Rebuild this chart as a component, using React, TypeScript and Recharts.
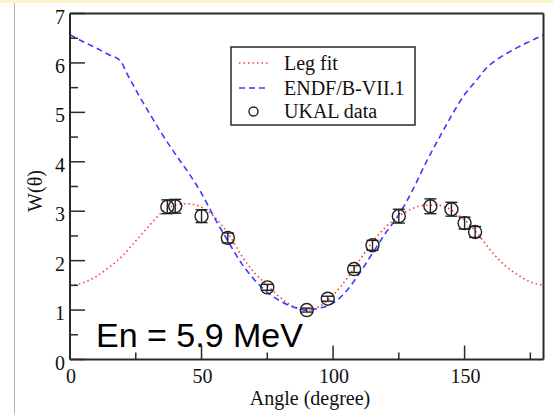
import React from 'react';
import {
  ComposedChart, Line, Scatter, ErrorBar, XAxis, YAxis,
} from 'recharts';

// Legendre fit, W(theta) vs angle in degrees
const fitAngles = [0, 5, 10, 15, 20, 25, 30, 35, 40, 45, 50, 55, 60, 65, 70, 75, 80, 85, 90,
  95, 100, 105, 110, 115, 120, 125, 130, 135, 140, 145, 150, 155, 160, 165, 170, 175, 180];
const fitValues = [1.5, 1.55, 1.68, 1.87, 2.1, 2.4, 2.7, 2.98, 3.12, 3.15, 3.08, 2.88, 2.56, 2.12, 1.76, 1.5, 1.25, 1.07, 1.0,
  1.08, 1.3, 1.62, 2.0, 2.38, 2.68, 2.9, 3.05, 3.12, 3.12, 3.02, 2.82, 2.54, 2.2, 1.92, 1.72, 1.57, 1.5];

// ENDF/B-VII.1 evaluation
const endfAngles = [0, 5, 10, 15, 19, 22, 26, 30, 35, 40, 45, 50, 55, 60, 65, 70, 75, 80, 85, 90,
  95, 100, 105, 110, 115, 120, 125, 130, 135, 140, 145, 150, 155, 158, 162, 166, 170, 175, 180];
const endfValues = [6.57, 6.43, 6.3, 6.16, 6.05, 5.75, 5.36, 5.0, 4.56, 4.16, 3.78, 3.36, 2.86, 2.4, 1.96, 1.62, 1.36, 1.18, 1.06, 1.0,
  1.04, 1.14, 1.38, 1.74, 2.15, 2.56, 2.93, 3.4, 3.95, 4.45, 4.93, 5.36, 5.68, 5.88, 6.06, 6.19, 6.31, 6.44, 6.57];

// UKAL measurements
const ukalAngles = [37, 40, 50, 60, 75, 90, 98, 108, 115, 125, 137, 145, 150, 154];
const ukalValues = [3.09, 3.1, 2.9, 2.46, 1.46, 1.0, 1.23, 1.83, 2.31, 2.9, 3.1, 3.04, 2.76, 2.58];
const ukalErrors = [0.14, 0.14, 0.13, 0.1, 0.06, 0.04, 0.05, 0.07, 0.1, 0.14, 0.15, 0.14, 0.12, 0.11];

const xTicks = [0, 25, 50, 75, 100, 125, 150, 175];
const yTicks = [0, 0.5, 1, 1.5, 2, 2.5, 3, 3.5, 4, 4.5, 5, 5.5, 6, 6.5, 7];

const fitData = fitAngles.map((a, i) => ({ angle: a, w: fitValues[i] }));
const endfData = endfAngles.map((a, i) => ({ angle: a, w: endfValues[i] }));
const ukalData = ukalAngles.map((a, i) => ({ angle: a, w: ukalValues[i], err: ukalErrors[i] }));

const AXIS = '#2a2a2a';
const RED = '#ff3b3b';
const BLUE = '#3a3aff';
const SERIF = '"Liberation Serif", "Times New Roman", serif';

const BottomTick = (props: any) => {
  const { x, y, payload } = props;
  const major = payload.value % 50 === 0;
  return (
    <g>
      <line x1={x} x2={x} y1={y} y2={y - (major ? 14 : 7)} stroke={AXIS} strokeWidth={1.5} />
      {major && (
        <text x={x + 1} y={y + 23} textAnchor="middle" fontFamily={SERIF} fontSize={20} fill="#111">
          {payload.value}
        </text>
      )}
    </g>
  );
};

const TopTick = (props: any) => {
  const { x, y, payload } = props;
  const major = payload.value % 50 === 0;
  return <line x1={x} x2={x} y1={y} y2={y + (major ? 14 : 7)} stroke={AXIS} strokeWidth={1.5} />;
};

const LeftTick = (props: any) => {
  const { x, y, payload } = props;
  const major = Number.isInteger(payload.value);
  return (
    <g>
      <line x1={x} x2={x + (major ? 15 : 8)} y1={y} y2={y} stroke={AXIS} strokeWidth={1.5} />
      {major && (
        <text x={x - 5} y={y + 10} textAnchor="end" fontFamily={SERIF} fontSize={20} fill="#111">
          {payload.value}
        </text>
      )}
    </g>
  );
};

const RightTick = (props: any) => {
  const { x, y, payload } = props;
  const major = Number.isInteger(payload.value);
  return <line x1={x} x2={x - (major ? 15 : 8)} y1={y} y2={y} stroke={AXIS} strokeWidth={1.5} />;
};

const OpenCircle = (props: any) => {
  const { cx, cy } = props;
  return <circle cx={cx} cy={cy} r={6.5} fill="none" stroke="#222" strokeWidth={1.4} />;
};

export default function App() {
  return (
    <div style={{ width: 553, height: 414, position: 'relative', background: '#fff' }}>
      <style>{'body{margin:0}'}</style>
      <ComposedChart
        width={553}
        height={414}
        margin={{ top: 12.5, right: 8.5, bottom: 53.5, left: 69 }}
      >
        <rect x={0} y={0} width={553} height={3} fill="#fcf3c6" />
        <line x1={14.5} x2={14.5} y1={3} y2={414} stroke="#b5b5b5" strokeWidth={1} />

        <XAxis
          xAxisId="b"
          type="number"
          dataKey="angle"
          domain={[0, 180]}
          ticks={xTicks}
          orientation="bottom"
          height={1}
          tickSize={0}
          tickMargin={0}
          tick={BottomTick}
          axisLine={{ stroke: AXIS, strokeWidth: 2 }}
          allowDataOverflow
        />
        <XAxis
          xAxisId="t"
          type="number"
          dataKey="angle"
          domain={[0, 180]}
          ticks={xTicks}
          orientation="top"
          height={1}
          tickSize={0}
          tickMargin={0}
          tick={TopTick}
          axisLine={{ stroke: AXIS, strokeWidth: 2 }}
        />
        <YAxis
          yAxisId="l"
          type="number"
          domain={[0, 7]}
          ticks={yTicks}
          orientation="left"
          width={1}
          tickSize={0}
          tickMargin={0}
          tick={LeftTick}
          axisLine={{ stroke: AXIS, strokeWidth: 2 }}
          allowDataOverflow
        />
        <YAxis
          yAxisId="r"
          type="number"
          domain={[0, 7]}
          ticks={yTicks}
          orientation="right"
          width={1}
          tickSize={0}
          tickMargin={0}
          tick={RightTick}
          axisLine={{ stroke: AXIS, strokeWidth: 2 }}
        />

        <Line
          xAxisId="b"
          yAxisId="l"
          data={fitData}
          dataKey="w"
          type="monotone"
          stroke={RED}
          strokeWidth={1.6}
          strokeDasharray="1.5 3"
          dot={false}
          activeDot={false}
          isAnimationActive={false}
        />
        <Line
          xAxisId="b"
          yAxisId="l"
          data={endfData}
          dataKey="w"
          type="monotone"
          stroke={BLUE}
          strokeWidth={1.6}
          strokeDasharray="6 4"
          dot={false}
          activeDot={false}
          isAnimationActive={false}
        />
        <Scatter
          xAxisId="b"
          yAxisId="l"
          data={ukalData}
          dataKey="w"
          shape={OpenCircle}
          isAnimationActive={false}
        >
          <ErrorBar dataKey="err" direction="y" width={6} stroke="#222" strokeWidth={1.4} isAnimationActive={false} />
        </Scatter>

        {/* legend box */}
        <rect x={231} y={47} width={184} height={78} fill="#fff" stroke={AXIS} strokeWidth={1.5} />
        <line x1={239} x2={269} y1={63} y2={63} stroke={RED} strokeWidth={1.6} strokeDasharray="1.5 3" />
        <text x={284} y={69.5} fontFamily={SERIF} fontSize={20} fill="#111">Leg fit</text>
        <line x1={239} x2={269} y1={88} y2={88} stroke={BLUE} strokeWidth={1.6} strokeDasharray="6 4" />
        <text x={284} y={94.5} fontFamily={SERIF} fontSize={20} fill="#111">ENDF/B-VII.1</text>
        <circle cx={253.5} cy={111.5} r={4.5} fill="none" stroke="#222" strokeWidth={1.4} />
        <text x={284} y={118} fontFamily={SERIF} fontSize={20} fill="#111">UKAL data</text>

        {/* axis titles */}
        <text x={310} y={405} textAnchor="middle" fontFamily={SERIF} fontSize={20} fill="#111">
          Angle (degree)
        </text>
        <text
          x={42}
          y={191}
          textAnchor="middle"
          fontFamily={SERIF}
          fontSize={20}
          fill="#111"
          transform="rotate(-90 42 191)"
        >
          W(θ)
        </text>

        <text x={96} y={346.5} fontFamily='"Liberation Sans", Arial, sans-serif' fontSize={34} fill="#000">
          En = 5.9 MeV
        </text>
      </ComposedChart>
    </div>
  );
}
